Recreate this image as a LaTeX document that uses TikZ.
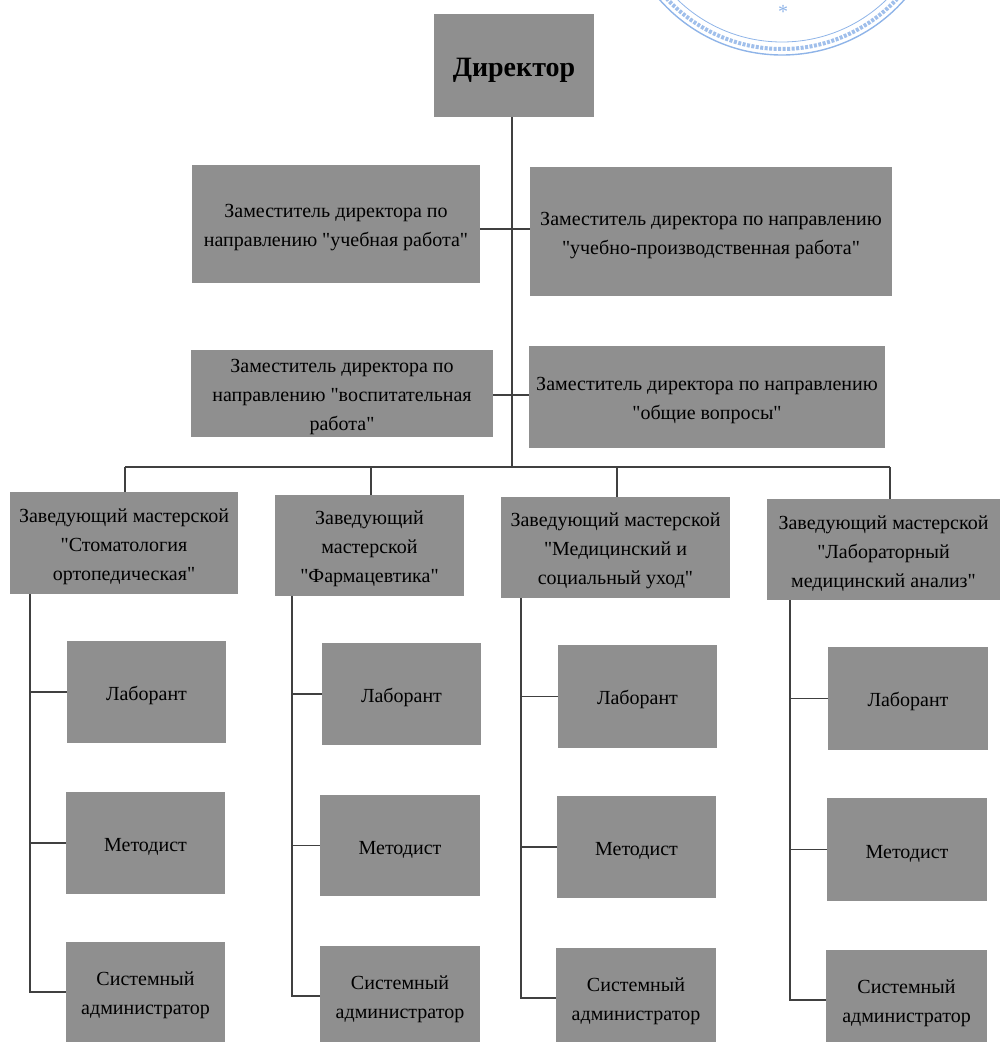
\documentclass[tikz,border=0pt]{standalone}
\usepackage{fontspec}
\setmainfont[Ligatures=TeXOff]{Liberation Serif}
\definecolor{boxgray}{HTML}{8F8F8F}
\definecolor{stampblue}{HTML}{8FB4E8}
\tikzset{
  orgbox/.style={fill=boxgray,draw=none,inner sep=0pt,align=center,text=black,font=\fontsize{20}{29}\selectfont},
  link/.style={draw=black!75,line width=1.2pt},
  stampline/.style={draw=stampblue,line width=1.4pt},
}
\newcommand{\orgnode}[6]{%
  \pgfmathsetmacro{\bw}{#4-#2}\pgfmathsetmacro{\bh}{#5-#3}%
  \pgfmathsetmacro{\cx}{(#4+#2)/2}\pgfmathsetmacro{\cy}{(#5+#3)/2}%
  \node[orgbox,minimum width=\bw pt,minimum height=\bh pt] (#1) at (\cx,\cy) {\rule{0pt}{21pt}#6};}
\begin{document}
\begin{tikzpicture}[x=1pt,y=-1pt]
\useasboundingbox (0,0) rectangle (1001,1042);
\begin{scope}
\clip (0,0) rectangle (1001,1042);
% stamp
\draw[stampline] (782,-108) circle (163);
\draw[stampline,line width=4pt,dash pattern=on 3pt off 1.5pt,draw=stampblue!85] (782,-108) circle (157);
\draw[stampline,line width=0.8pt] (782,-108) circle (150);
\node[text=stampblue,font=\fontsize{20}{20}\selectfont,inner sep=0pt] (star) at (783,12) {*};
\orgnode{dir}{434}{14}{594}{117}{\rule{0pt}{28pt}\fontsize{28}{32}\selectfont\bfseries Директор}
\orgnode{z1}{192}{165}{480}{283}{Заместитель директора по\\направлению "учебная работа"}
\orgnode{z2}{530}{167}{892}{296}{Заместитель директора по направлению\\"учебно-производственная работа"}
\orgnode{z3}{191}{350}{493}{437}{Заместитель директора по\\направлению "воспитательная\\работа"}
\orgnode{z4}{529}{346}{885}{448}{Заместитель директора по направлению\\"общие вопросы"}
\orgnode{h1}{10}{492}{238}{594}{Заведующий мастерской\\"Стоматология\\ортопедическая"}
\orgnode{h2}{275}{495}{464}{596}{Заведующий\\мастерской\\"Фармацевтика"}
\orgnode{h3}{501}{497}{730}{598}{Заведующий мастерской\\"Медицинский и\\социальный уход"}
\orgnode{h4}{767}{499}{1000}{600}{Заведующий мастерской\\"Лабораторный\\медицинский анализ"}
\orgnode{la1}{67}{641}{226}{743}{Лаборант}
\orgnode{me1}{66}{792}{225}{894}{Методист}
\orgnode{si1}{66}{942}{225}{1042}{Системный\\администратор}
\orgnode{la2}{322}{643}{481}{745}{Лаборант}
\orgnode{me2}{320}{795}{480}{896}{Методист}
\orgnode{si2}{320}{946}{480}{1046}{Системный\\администратор}
\orgnode{la3}{558}{645}{717}{748}{Лаборант}
\orgnode{me3}{557}{796}{716}{898}{Методист}
\orgnode{si3}{556}{948}{716}{1048}{Системный\\администратор}
\orgnode{la4}{828}{647}{988}{750}{Лаборант}
\orgnode{me4}{827}{798}{987}{901}{Методист}
\orgnode{si4}{826}{950}{987}{1050}{Системный\\администратор}
% junctions
\coordinate (top) at (512,117);
\coordinate (j1) at (512,229);
\coordinate (j2) at (512,395);
\coordinate (bus) at (512,467);
\coordinate (b1) at (125,467);
\coordinate (b2) at (371,467);
\coordinate (b3) at (617,467);
\coordinate (b4) at (890,467);
\coordinate (a1) at (30,594);
\coordinate (a2) at (292,596);
\coordinate (a3) at (521,598);
\coordinate (a4) at (790,600);
\draw[link] (top) -- (bus);
\draw[link] (z1.east |- j1) -- (z2.west |- j1);
\draw[link] (z3.east |- j2) -- (z4.west |- j2);
\draw[link] (b1) -- (b4);
\draw[link] (b1) -- (b1 |- h1.north);
\draw[link] (b2) -- (b2 |- h2.north);
\draw[link] (b3) -- (b3 |- h3.north);
\draw[link] (b4) -- (b4 |- h4.north);
\foreach \n in {1,2,3,4}{
  \draw[link] (a\n) |- (la\n.west);
  \draw[link] (a\n) |- (me\n.west);
  \draw[link] (a\n) |- (si\n.west);
}
\end{scope}
\end{tikzpicture}
\end{document}
